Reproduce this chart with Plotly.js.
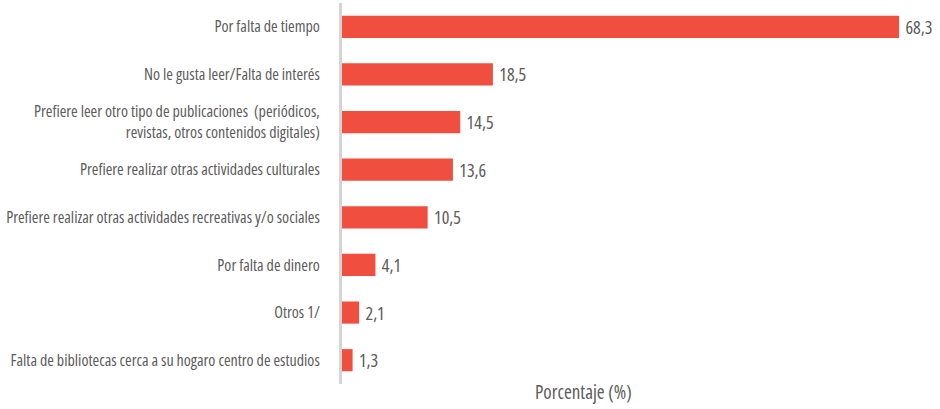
<!DOCTYPE html>
<html><head><meta charset="utf-8">
<script src="https://cdn.plot.ly/plotly-3.0.1.min.js"></script>
<style>
html,body{margin:0;padding:0;background:#fff;}
#c{width:940px;height:409px;}
svg text{font-stretch:75% !important;}
</style>
</head><body><div id="c"></div>
<script>
const categories = [
  "Por falta de tiempo",
  "No le gusta leer/Falta de interés",
  "Prefiere leer otro tipo de publicaciones  (periódicos,<br>revistas, otros contenidos digitales)",
  "Prefiere realizar otras actividades culturales",
  "Prefiere realizar otras actividades recreativas y/o sociales",
  "Por falta de dinero",
  "Otros 1/",
  "Falta de bibliotecas cerca a su hogaro centro de estudios"
];
const values = [68.3, 18.5, 14.5, 13.6, 10.5, 4.1, 2.1, 1.3];
const axisTitle = "Porcentaje (%)";

const FONT = '"Open Sans", sans-serif';
const GREY = '#5c5c5c';

function draw() {
  Plotly.newPlot('c', [{
    type: 'bar', orientation: 'h',
    x: values, y: categories,
    marker: {color: '#f04e3e'},
    texttemplate: '\u00a0%{x:.1f}', textposition: 'outside', cliponaxis: false,
    constraintext: 'none',
    textfont: {family: FONT, size: 18, color: GREY},
    hoverinfo: 'none'
  }], {
    width: 940, height: 409,
    margin: {l: 342, r: 5, t: 3, b: 25},
    separators: ',.',
    bargap: 0.535,
    paper_bgcolor: '#fff', plot_bgcolor: '#fff',
    font: {family: FONT, color: GREY},
    showlegend: false,
    xaxis: {range: [0, 72.7], showticklabels: false, showgrid: false, zeroline: false, showline: false, ticks: ''},
    yaxis: {autorange: 'reversed', showline: true, linecolor: '#d4d4d4', linewidth: 3,
            ticks: '', showgrid: false, zeroline: false, ticklabelstandoff: 16,
            tickfont: {family: FONT, size: 16, color: GREY}},
    annotations: [{text: axisTitle, xref: 'paper', yref: 'paper', x: 0.407, y: -0.021,
                   xanchor: 'center', yanchor: 'middle', showarrow: false,
                   font: {family: FONT, size: 19, color: GREY}}]
  }, {displayModeBar: false, staticPlot: true});
}
if (document.fonts && document.fonts.ready) { document.fonts.ready.then(draw); } else { draw(); }
</script></body></html>
